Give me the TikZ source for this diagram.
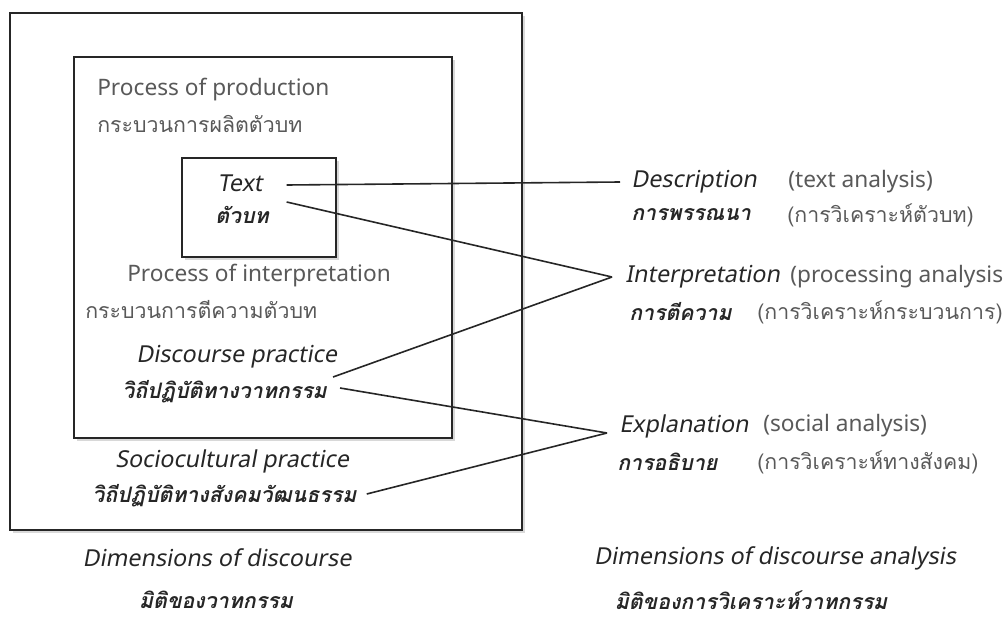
\documentclass[tikz,border=0pt]{standalone}
\usepackage{fontspec}
\setmainfont{Noto Sans}
\newfontfamily\slantfont[FakeSlant=0.18]{Noto Sans}
\newfontfamily\thaifont[Script=Thai]{Loma}
\usetikzlibrary{shadows,calc}

\tikzset{
  box/.style={draw=black!85, line width=1.6pt, fill=white,
    drop shadow={shadow xshift=2pt, shadow yshift=-2pt, opacity=0.3}},
  en/.style={anchor=west, inner sep=0pt, text=black!65,
    font=\fontsize{17}{19}\selectfont},
  enit/.style={en, text=black!85, font=\slantfont\fontsize{17.5}{19}\selectfont},
  th/.style={anchor=west, inner sep=0pt, text=black!65,
    font=\thaifont\fontsize{16}{19}\selectfont},
  thit/.style={th, text=black!85, font=\thaifont\fontsize{16}{19}\selectfont\bfseries\itshape},
  link/.style={line width=1.2pt, black!85},
}

\begin{document}
\begin{tikzpicture}[x=0.75pt, y=-0.75pt]
    \useasboundingbox (0,0) rectangle (1007,617);
    % the three nested boxes
    \filldraw[box] (10,13) rectangle (522,530);
    \filldraw[box] (74,57) rectangle (452,438);
    \filldraw[box] (182,158) rectangle (336,257);

    % dimensions of discourse
    \node[en]   (prodEn)   at (97,90)  {Process of production};
    \node[th]   (prodTh)   at (97,124) {กระบวนการผลิตตัวบท};
    \node[enit,anchor=center] (textEn) at (240,183) {Text};
    \node[thit,anchor=center] (textTh) at (242,215) {ตัวบท};
    \node[en]   (interpEn) at (127,276) {Process of interpretation};
    \node[th]   (interpTh) at (85,310)  {กระบวนการตีความตัวบท};
    \node[enit] (discEn)   at (136,357) {Discourse practice};
    \node[thit] (discTh)   at (122,392) {วิถีปฏิบัติทางวาทกรรม};
    \node[enit] (socioEn)  at (115,461) {Sociocultural practice};
    \node[thit] (socioTh)  at (92,496)  {วิถีปฏิบัติทางสังคมวัฒนธรรม};
    \node[enit,anchor=center] (dimEn) at (217,558) {Dimensions of discourse};
    \node[thit,anchor=center] (dimTh) at (216,600) {มิติของวาทกรรม};

    % dimensions of discourse analysis
    \node[enit] (descEn)     at (631,182) {Description};
    \node[en]   (descNote)   at (788,182) {(text analysis)};
    \node[thit] (descTh)     at (631,215) {การพรรณนา};
    \node[th]   (descThNote) at (787,215) {(การวิเคราะห์ตัวบท)};
    \node[enit] (intEn)      at (625,277) {Interpretation};
    \node[en]   (intNote)    at (790,277) {(processing analysis};
    \node[thit] (intTh)      at (629,312) {การตีความ};
    \node[th]   (intThNote)  at (757,312) {(การวิเคราะห์กระบวนการ)};
    \node[enit] (explEn)     at (619,426) {Explanation};
    \node[en]   (explNote)   at (763,426) {(social analysis)};
    \node[thit] (explTh)     at (617,462) {การอธิบาย};
    \node[th]   (explThNote) at (757,462) {(การวิเคราะห์ทางสังคม)};
    \node[enit,anchor=center] (dimaEn) at (775,558) {Dimensions of discourse analysis};
    \node[thit,anchor=center] (dimaTh) at (751,600) {มิติของการวิเคราะห์วาทกรรม};

    % links
    \coordinate (intV)  at ($(intEn.west)+(-13,0)$);
    \coordinate (explV) at ($(explEn.west)+(-12,7)$);
    \draw[link] ($(textEn.east)+(24,2)$) -- ($(descEn.west)+(-11,0)$);
    \draw[link] ($(textEn.east)+(24,19)$) -- (intV);
    \draw[link] ($(discTh.east)+(6,-15)$) -- (intV);
    \draw[link] ($(discTh.east)+(13,-4)$) -- (explV);
    \draw[link] ($(socioTh.east)+(10,-2)$) -- (explV);
\end{tikzpicture}
\end{document}
